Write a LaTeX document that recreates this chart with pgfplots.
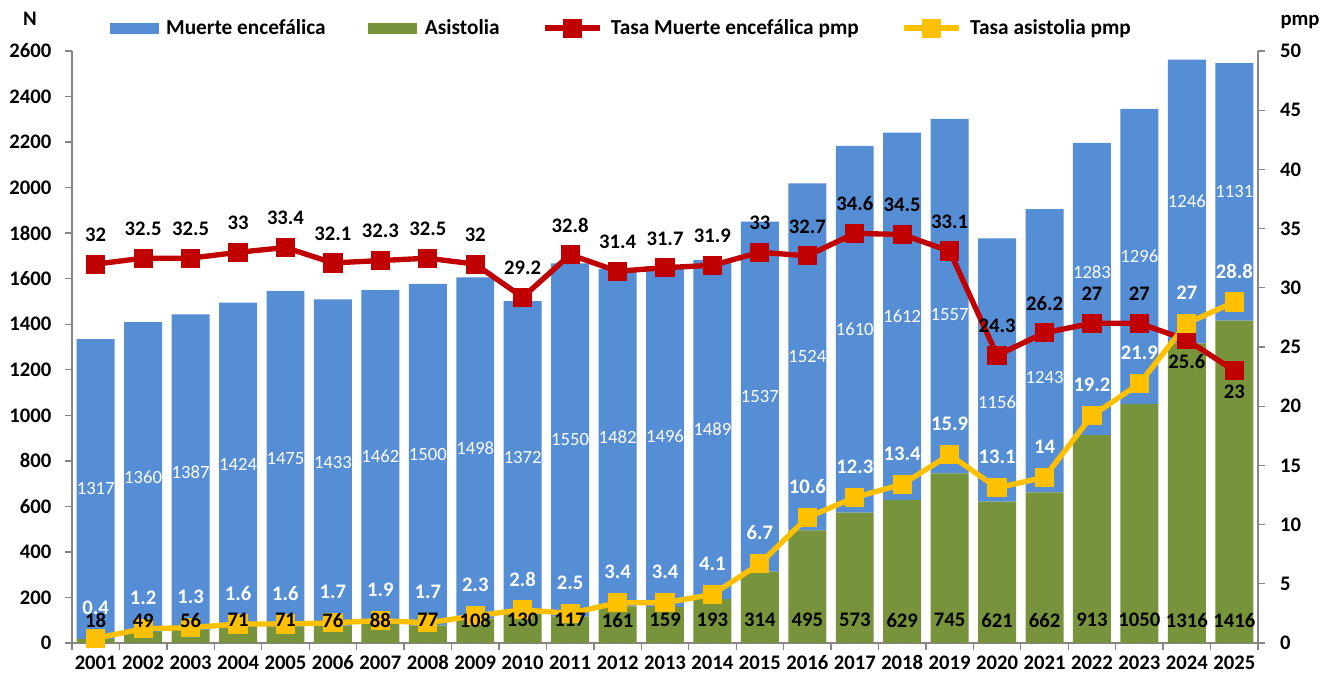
\documentclass[border=0pt]{standalone}
\usepackage{pgfplots}
\pgfplotsset{compat=1.18}
\usepackage{pgfplotstable}
\usepackage{fontspec}
\setmainfont{Carlito}
\definecolor{meblue}{HTML}{558ED5}
\definecolor{asgreen}{HTML}{77933C}
\definecolor{tred}{HTML}{C00000}
\definecolor{tyel}{HTML}{FFC000}
\definecolor{axgray}{HTML}{868686}
\pgfkeys{/pgf/number format/.cd,1000 sep={},assume math mode=true}

% dy = manual shift of the Muerte encefalica label from the segment centre
\pgfplotstableread{
i year me as red yel dy
0 2001 1317 18 32 0.4 0
1 2002 1360 49 32.5 1.2 0
2 2003 1387 56 32.5 1.3 0
3 2004 1424 71 33 1.6 0
4 2005 1475 71 33.4 1.6 0
5 2006 1433 76 32.1 1.7 0
6 2007 1462 88 32.3 1.9 0
7 2008 1500 77 32.5 1.7 0
8 2009 1498 108 32 2.3 0
9 2010 1372 130 29.2 2.8 0
10 2011 1550 117 32.8 2.5 0
11 2012 1482 161 31.4 3.4 0
12 2013 1496 159 31.7 3.4 0
13 2014 1489 193 31.9 4.1 0
14 2015 1537 314 33 6.7 0
15 2016 1524 495 32.7 10.6 0
16 2017 1610 573 34.6 12.3 0
17 2018 1612 629 34.5 13.4 0
18 2019 1557 745 33.1 15.9 -83
19 2020 1156 621 24.3 13.1 -141
20 2021 1243 662 26.2 14 -119
21 2022 1283 913 27 19.2 75
22 2023 1296 1050 27 21.9 0
23 2024 1246 1316 25.6 27 0
24 2025 1131 1416 23 28.8 0
}\data

\newcommand\fbig{\fontsize{15.5}{18}\selectfont\bfseries}
\newcommand\fmed{\fontsize{14}{16}\selectfont}
\newcommand\fleg{\fontsize{16}{19}\selectfont\bfseries}

\begin{document}
\begin{tikzpicture}
\path[use as bounding box] (-54pt,-28.5pt) rectangle (946.5pt,482.25pt);
\pgfplotsset{common/.style={scale only axis, width=889.5pt, height=444pt,
  xmin=-0.5, xmax=24.5, clip=false, at={(0,0)}, anchor=south west}}

% bars, left axis
\begin{axis}[common, ybar stacked, bar width=0.8, ymin=0, ymax=2600,
  axis x line*=bottom, axis y line*=left,
  axis line style={-, draw=axgray, line width=1pt},
  ytick={0,200,...,2600}, scaled y ticks=false,
  xtick={-0.5,0.5,...,24.5}, xticklabels={},
  extra x ticks={0,1,...,24},
  extra x tick labels={2001,2002,2003,2004,2005,2006,2007,2008,2009,2010,2011,2012,2013,2014,2015,2016,2017,2018,2019,2020,2021,2022,2023,2024,2025},
  extra x tick style={major tick length=0pt},
  tick style={draw=axgray, line width=1pt}, major tick length=5pt, tick align=outside,
  ticklabel style={font=\fbig},
  xticklabel style={yshift=-6pt},
  yticklabel style={xshift=-7pt},
]
\addplot[fill=asgreen, draw=none] table[x=i,y=as]{\data};
\addplot[fill=meblue, draw=none] table[x=i,y=me]{\data};
\end{axis}

% rates, right axis
\begin{axis}[common, ymin=0, ymax=50,
  axis x line=none, axis y line*=right,
  axis line style={-, draw=axgray, line width=1pt},
  ytick={0,5,...,50},
  tick style={draw=axgray, line width=1pt}, major tick length=5pt, tick align=outside,
  ticklabel style={font=\fbig},
  yticklabel style={xshift=8pt},
  legend columns=4,
  legend style={at={(axis description cs:0,1)}, anchor=west, xshift=28pt, yshift=17pt,
    draw=none, fill=none, inner sep=0pt, font=\fleg,
    nodes={inner xsep=0pt},
    /tikz/every odd column/.append style={column sep=6pt},
    /tikz/every even column/.append style={column sep=32pt}},
]
\addlegendimage{legend image code/.code={\fill[meblue] (0pt,-4pt) rectangle (36pt,4pt);}}
\addlegendentry{Muerte encefálica}
\addlegendimage{legend image code/.code={\fill[asgreen] (0pt,-4pt) rectangle (36pt,4pt);}}
\addlegendentry{Asistolia}
\addplot[tred, line width=4pt, mark=square*, mark size=5.2pt, mark options={solid},
  legend image code/.code={\draw[tred, line width=4.5pt] (0pt,0pt) -- (41pt,0pt); \fill[tred] (15.5pt,-5pt) rectangle (25.5pt,5pt);}]
  table[x=i,y=red]{\data};
\addlegendentry{Tasa Muerte encefálica pmp}
\addplot[tyel, line width=4pt, mark=square*, mark size=5.2pt, mark options={solid},
  legend image code/.code={\draw[tyel, line width=4.5pt] (0pt,0pt) -- (41pt,0pt); \fill[tyel] (15.5pt,-5pt) rectangle (25.5pt,5pt);}]
  table[x=i,y=yel]{\data};
\addlegendentry{Tasa asistolia pmp}
% labels
\addplot[forget plot, draw=none, mark=none, nodes near coords, point meta=explicit,
  restrict x to domain=0:22,
  every node near coord/.append style={anchor=center, yshift=22pt, font=\fbig, text=black}]
  table[x=i, y=red, meta=red]{\data};
\addplot[forget plot, draw=none, mark=none, nodes near coords, point meta=explicit,
  restrict x to domain=23:24,
  every node near coord/.append style={anchor=center, yshift=-16pt, font=\fbig, text=black}]
  table[x=i, y=red, meta=red]{\data};
\addplot[forget plot, draw=none, mark=none, nodes near coords, point meta=explicit,
  every node near coord/.append style={anchor=center, yshift=23pt, font=\fbig, text=white}]
  table[x=i, y=yel, meta=yel]{\data};
\node[font=\fbig] at ([xshift=-31.5pt, yshift=24pt]rel axis cs:0,1) {N};
\node[font=\fbig] at ([xshift=31.5pt, yshift=22pt]rel axis cs:1,1) {pmp};
\end{axis}

% bar labels (drawn on top of the lines)
\begin{axis}[common, ymin=0, ymax=2600, hide axis]
\addplot[draw=none, mark=none, nodes near coords, point meta=explicit,
  every node near coord/.append style={anchor=center, font=\fmed, text=white}]
  table[x=i, y expr=\thisrow{as}+0.5*\thisrow{me}+\thisrow{dy}, meta=me]{\data};
\addplot[draw=none, mark=none, nodes near coords, point meta=explicit,
  every node near coord/.append style={anchor=center, font=\fbig, text=black}]
  table[x=i, y expr=100, meta=as]{\data};
\end{axis}
\end{tikzpicture}
\end{document}
